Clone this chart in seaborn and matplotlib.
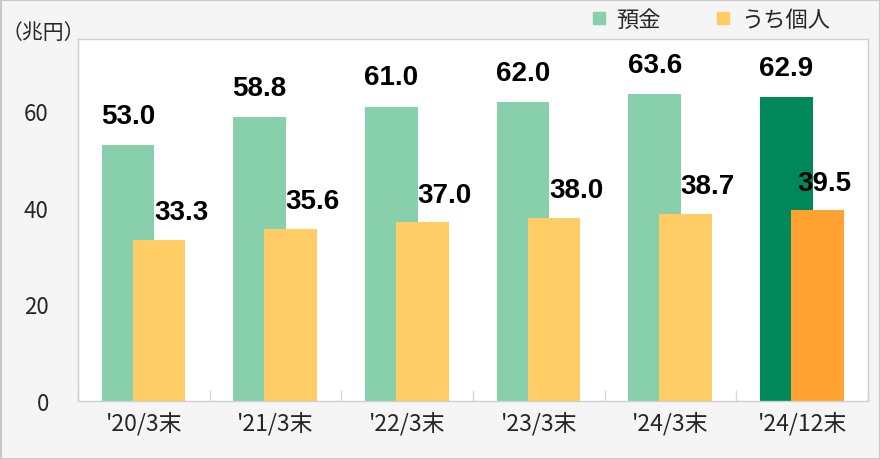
import matplotlib
matplotlib.use("Agg")
import matplotlib.pyplot as plt
import seaborn as sns
import numpy as np
import pandas as pd
from matplotlib.lines import Line2D

categories = ["'20/3末", "'21/3末", "'22/3末", "'23/3末", "'24/3末", "'24/12末"]
deposits = [53.0, 58.8, 61.0, 62.0, 63.6, 62.9]
personal = [33.3, 35.6, 37.0, 38.0, 38.7, 39.5]
series_names = ["預金", "うち個人"]
y_ticks = [0, 20, 40, 60]
unit_label = "（兆円）"

green = "#88D0AC"
green_dark = "#00875A"
orange = "#FFCC66"
orange_dark = "#FFA232"

sns.set_theme(style="white")
plt.rcParams["font.family"] = ["Noto Sans CJK JP", "DejaVu Sans"]

fig = plt.figure(figsize=(8.8, 4.6), dpi=100, facecolor="#F5F5F5")
ax = fig.add_axes([78/880, 58/460, 790/880, 362/460])
ax.set_facecolor("white")

n = len(categories)
idx = np.arange(n)
off_g, off_o, w = -0.12, 0.115, 0.40

df_g = pd.DataFrame({"x": idx + off_g, "y": deposits})
df_o = pd.DataFrame({"x": idx + off_o, "y": personal})
sns.barplot(data=df_g, x="x", y="y", native_scale=True, width=w, ax=ax,
            color=green, saturation=1, edgecolor="none", linewidth=0)
sns.barplot(data=df_o, x="x", y="y", native_scale=True, width=w, ax=ax,
            color=orange, saturation=1, edgecolor="none", linewidth=0)

patches = ax.patches
patches[n - 1].set_facecolor(green_dark)
patches[2 * n - 1].set_facecolor(orange_dark)

lab_font = dict(family=["Liberation Sans", "DejaVu Sans"], fontsize=20,
                fontweight="bold", color="black", ha="center", va="center")
for i, v in enumerate(deposits):
    ax.annotate(f"{v:.1f}", (idx[i] + off_g, v), xytext=(0, 21),
                textcoords="offset points", **lab_font)
for i, v in enumerate(personal):
    dx = 16 if i < n - 1 else 5
    ax.annotate(f"{v:.1f}", (idx[i] + off_o, v), xytext=(dx, 20),
                textcoords="offset points", **lab_font)

ax.set_xlim(-0.5, n - 0.5)
ax.set_ylim(0, 75)
ax.set_xticks(idx)
ax.set_xticklabels(categories, fontsize=16.5)
ax.set_xticks(np.arange(-0.5, n, 1.0), minor=True)
ax.set_yticks(y_ticks)
ax.set_yticklabels([str(t) for t in y_ticks], fontsize=16)
ax.tick_params(axis="x", which="major", length=0, pad=7)
ax.tick_params(axis="x", which="minor", direction="in", length=8, color="#D8D8D8", width=1, bottom=True)
ax.tick_params(axis="y", length=0, pad=21)
ax.set_xlabel("")
ax.set_ylabel("")
for s in ax.spines.values():
    s.set_visible(True)
    s.set_color("#D0D0D0")
    s.set_linewidth(1)

fig.text(2/880, 1 - 33/460, unit_label, fontsize=15, va="center", ha="left")

handles = [Line2D([], [], marker="s", linestyle="none", markersize=9, color=green),
           Line2D([], [], marker="s", linestyle="none", markersize=9, color=orange)]
fig.legend(handles, series_names, loc="center left", bbox_to_anchor=(592/880, 1 - 20/460),
           ncol=2, frameon=False, fontsize=16, handlelength=0.6, handletextpad=0.5,
           columnspacing=2.5, borderaxespad=0, borderpad=0)

border = plt.Rectangle((0.5/880, 0.5/460), 1 - 1/880, 1 - 1/460, transform=fig.transFigure,
                       fill=False, edgecolor="#C8C8C8", linewidth=1.5)
fig.patches.append(border)

fig.savefig("out.png", dpi=100, facecolor=fig.get_facecolor())
